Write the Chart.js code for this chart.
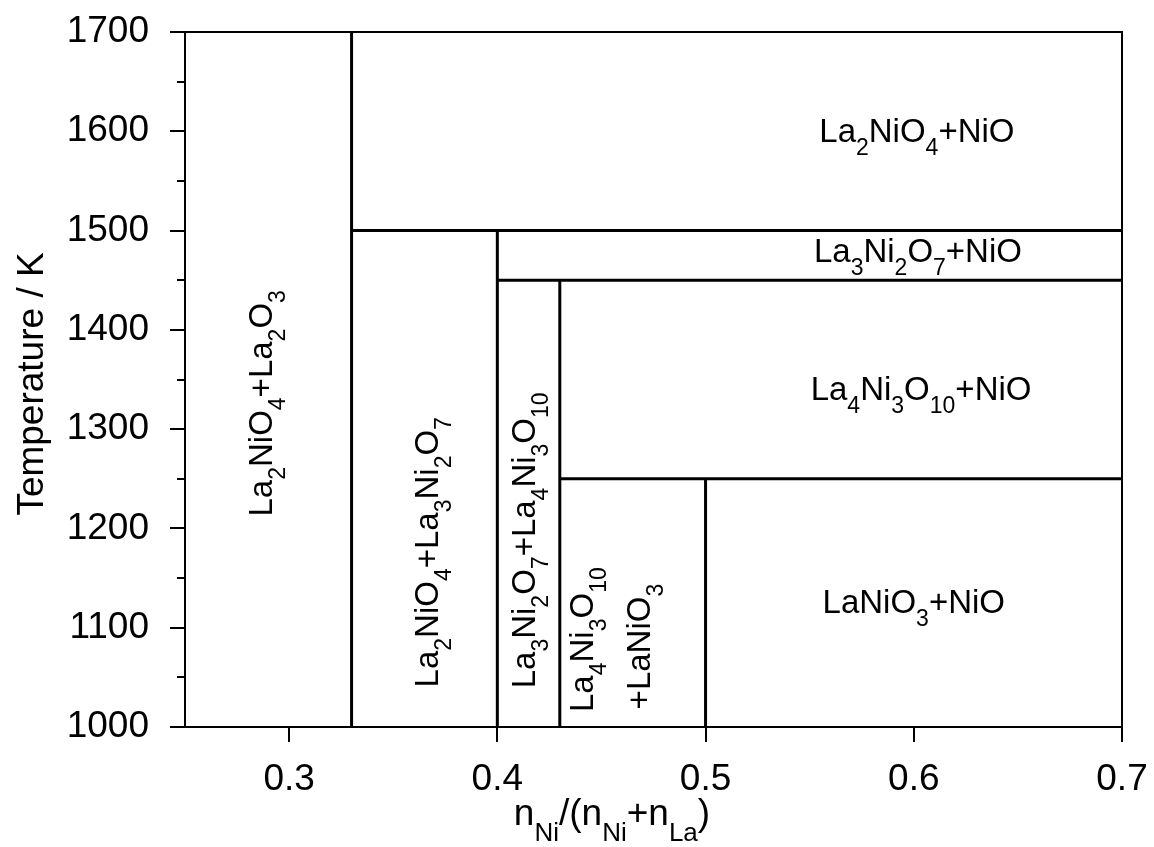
<!DOCTYPE html>
<html>
<head>
<meta charset="utf-8">
<script src="https://cdn.jsdelivr.net/npm/chart.js@4/dist/chart.umd.min.js"></script>
<style>
  body { margin: 0; background: #fff; }
  #wrap { width: 1154px; height: 847px; }
</style>
</head>
<body>
<div id="wrap"><canvas id="chart1" width="1154" height="847"></canvas></div>
<script>
// phase boundaries (x = n_Ni/(n_Ni+n_La), T in K)
const boundaryX = [0.33, 0.4, 0.43, 0.5];
const boundaryTop = [1700, 1500, 1450, 1250];
const tieLineT = [1500, 1450, 1250];
const tieLineFrom = [0.33, 0.4, 0.43];
const xMin = 0.25, xMax = 0.7;
const tMin = 1000, tMax = 1700;

const xTicks = [0.3, 0.4, 0.5, 0.6, 0.7];
const yTicks = [1000, 1050, 1100, 1150, 1200, 1250, 1300, 1350, 1400, 1450, 1500, 1550, 1600, 1650, 1700];

// phase field labels, digits become subscripts
const phaseNames = ['La2NiO4+NiO', 'La3Ni2O7+NiO', 'La4Ni3O10+NiO', 'LaNiO3+NiO',
  'La2NiO4+La2O3', 'La2NiO4+La3Ni2O7', 'La3Ni2O7+La4Ni3O10', 'La4Ni3O10', '+LaNiO3'];
const phaseAtX = [0.6015, 0.602, 0.6035, 0.6, 0.2918, 0.3715, 0.418, 0.446, 0.4733];
const phaseAtT = [1589, 1468, 1329, 1115, 1326, 1176, 1188, 1088, 1081];
const phaseUp = [false, false, false, false, true, true, true, true, true];

const FONT = '"Liberation Sans", Arial, sans-serif';

const datasets = [];
boundaryX.forEach((x, i) => {
  datasets.push({ data: [{ x: x, y: tMin }, { x: x, y: boundaryTop[i] }] });
});
tieLineT.forEach((t, i) => {
  datasets.push({ data: [{ x: tieLineFrom[i], y: t }, { x: xMax, y: t }] });
});
datasets.forEach(d => {
  d.showLine = true;
  d.borderColor = '#000';
  d.borderWidth = 3;
  d.pointRadius = 0;
  d.clip = false;
});

// draw text with numeric subscripts, centred on x, baseline on y
function richText(ctx, str, x, y, size, subSize, shift, up) {
  const runs = str.match(/\d+|\D+/g);
  let w = 0;
  runs.forEach(r => {
    ctx.font = (/\d/.test(r) ? subSize : size) + 'px ' + FONT;
    w += ctx.measureText(r).width;
  });
  ctx.save();
  ctx.translate(x, y);
  if (up) ctx.rotate(-Math.PI / 2);
  ctx.textAlign = 'left';
  ctx.textBaseline = 'alphabetic';
  ctx.fillStyle = '#000';
  let cx = -w / 2;
  runs.forEach(r => {
    const sub = /\d/.test(r);
    ctx.font = (sub ? subSize : size) + 'px ' + FONT;
    ctx.fillText(r, cx, sub ? shift : 0);
    cx += ctx.measureText(r).width;
  });
  ctx.restore();
}

const decor = {
  id: 'decor',
  afterDraw(chart) {
    const ctx = chart.ctx;
    const a = chart.chartArea;
    const sx = chart.scales.x, sy = chart.scales.y;
    ctx.save();
    ctx.strokeStyle = '#000';
    ctx.lineWidth = 2;
    ctx.strokeRect(a.left, a.top, a.right - a.left, a.bottom - a.top);
    ctx.beginPath();
    yTicks.forEach(v => {
      const py = Math.round(sy.getPixelForValue(v));
      const len = v % 100 === 0 ? 15 : 8;
      ctx.moveTo(a.left, py);
      ctx.lineTo(a.left - len, py);
    });
    xTicks.forEach(v => {
      const px = Math.round(sx.getPixelForValue(v));
      ctx.moveTo(px, a.bottom);
      ctx.lineTo(px, a.bottom + 15);
    });
    ctx.stroke();
    ctx.restore();

    phaseNames.forEach((name, i) => {
      richText(ctx, name, sx.getPixelForValue(phaseAtX[i]), sy.getPixelForValue(phaseAtT[i]),
        33, 23, 13, phaseUp[i]);
    });

    // axis titles
    richText(ctx, 'Temperature / K', 43, 384, 37, 26, 15, true);
    const xt = [['n', 0], ['Ni', 1], ['/(n', 0], ['Ni', 1], ['+n', 0], ['La', 1], [')', 0]];
    let w = 0;
    xt.forEach(p => { ctx.font = (p[1] ? 26 : 37) + 'px ' + FONT; w += ctx.measureText(p[0]).width; });
    let cx = 612 - w / 2;
    ctx.save();
    ctx.fillStyle = '#000';
    ctx.textBaseline = 'alphabetic';
    xt.forEach(p => {
      ctx.font = (p[1] ? 26 : 37) + 'px ' + FONT;
      ctx.fillText(p[0], cx, 825 + (p[1] ? 16 : 0));
      cx += ctx.measureText(p[0]).width;
    });
    ctx.restore();
  }
};

new Chart(document.getElementById('chart1'), {
  type: 'scatter',
  data: { datasets },
  options: {
    responsive: false,
    animation: false,
    layout: { padding: { left: 0, top: 32, right: 32, bottom: 0 } },
    plugins: { legend: { display: false }, tooltip: { enabled: false } },
    scales: {
      x: {
        type: 'linear',
        min: xMin,
        max: xMax,
        afterBuildTicks: s => { s.ticks = xTicks.map(v => ({ value: v })); },
        afterFit: s => { s.height = 120; s.paddingLeft = 0; s.paddingRight = 0; },
        grid: { display: false },
        border: { display: false },
        ticks: {
          autoSkip: false,
          maxRotation: 0,
          padding: 23,
          color: '#000',
          font: { family: FONT, size: 37 },
          callback: v => v.toFixed(1)
        }
      },
      y: {
        type: 'linear',
        min: tMin,
        max: tMax,
        afterBuildTicks: s => { s.ticks = yTicks.map(v => ({ value: v })); },
        afterFit: s => { s.width = 185; s.paddingTop = 0; s.paddingBottom = 0; },
        grid: { display: false },
        border: { display: false },
        ticks: {
          autoSkip: false,
          padding: 28,
          color: '#000',
          font: { family: FONT, size: 37 },
          callback: v => (v % 100 === 0 ? String(v) : '')
        }
      }
    }
  },
  plugins: [decor]
});
</script>
</body>
</html>
